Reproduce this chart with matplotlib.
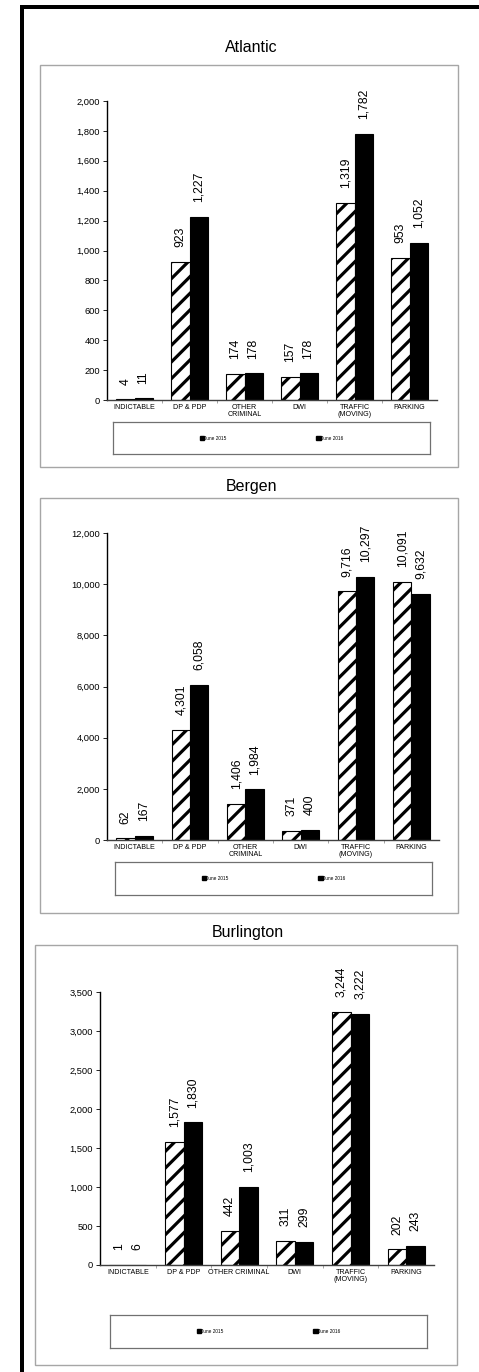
import matplotlib
matplotlib.use("Agg")
import matplotlib.pyplot as plt
from matplotlib.patches import Rectangle, Patch
import matplotlib.ticker as mticker
import numpy as np

plt.rcParams['font.family'] = ['Liberation Sans', 'DejaVu Sans']
plt.rcParams['hatch.linewidth'] = 2.3

W, H = 479, 1372

categories_a = ["INDICTABLE", "DP & PDP", "OTHER\nCRIMINAL", "DWI", "TRAFFIC\n(MOVING)", "PARKING"]
categories_c = ["INDICTABLE", "DP & PDP", "OTHER CRIMINAL", "DWI", "TRAFFIC\n(MOVING)", "PARKING"]
series_names = ["June 2015", "June 2016"]

atlantic_2015 = [4, 923, 174, 157, 1319, 953]
atlantic_2016 = [11, 1227, 178, 178, 1782, 1052]
bergen_2015 = [62, 4301, 1406, 371, 9716, 10091]
bergen_2016 = [167, 6058, 1984, 400, 10297, 9632]
burlington_2015 = [1, 1577, 442, 311, 3244, 202]
burlington_2016 = [6, 1830, 1003, 299, 3222, 243]

fig = plt.figure(figsize=(W / 100, H / 100), dpi=100)
fig.patch.set_facecolor("white")


def rect(x0, y0, x1, y1):
    return [x0 / W, 1 - y1 / H, (x1 - x0) / W, (y1 - y0) / H]


def fx(x):
    return x / W


def fy(y):
    return 1 - y / H


# outer black border (left + top)
fig.add_artist(Rectangle((fx(20), fy(1372)), fx(4), (1372 - 5) / H, transform=fig.transFigure,
                         facecolor="black", edgecolor="none", zorder=-5))
fig.add_artist(Rectangle((fx(20), fy(9)), fx(459), 4 / H, transform=fig.transFigure,
                         facecolor="black", edgecolor="none", zorder=-5))

panels = [
    dict(title="Atlantic", ty=47, box=(40, 65, 458, 467), ax=(107, 101, 437, 400),
         leg=(113, 422, 430, 454), cats=categories_a, s1=atlantic_2015, s2=atlantic_2016,
         ymax=2000, step=200),
    dict(title="Bergen", ty=487, box=(40, 498, 458, 913), ax=(107, 533, 439, 840),
         leg=(115, 862, 432, 895), cats=categories_a, s1=bergen_2015, s2=bergen_2016,
         ymax=12000, step=2000),
    dict(title="Burlington", ty=932, box=(35, 945, 457, 1365), ax=(100, 992, 434, 1265),
         leg=(110, 1315, 427, 1348), cats=categories_c, s1=burlington_2015, s2=burlington_2016,
         ymax=3500, step=500),
]

bw = 0.33
for p in panels:
    bx0, by0, bx1, by1 = p["box"]
    fig.add_artist(Rectangle((fx(bx0), fy(by1)), (bx1 - bx0) / W, (by1 - by0) / H,
                             transform=fig.transFigure, facecolor="white",
                             edgecolor="#a6a6a6", linewidth=1.0, zorder=-4))
    fig.text(fx((bx0 + bx1) / 2 + 2), fy(p["ty"]), p["title"], ha="center", va="center",
             fontsize=11.5, color="black")

    ax = fig.add_axes(rect(*p["ax"]))
    ax.patch.set_alpha(0)
    x = np.arange(len(p["cats"]))
    b1 = ax.bar(x - bw / 2, p["s1"], bw, facecolor="white", edgecolor="black",
                hatch="//", linewidth=0.8)
    b2 = ax.bar(x + bw / 2, p["s2"], bw, facecolor="black", edgecolor="black", linewidth=0.8)
    for bars, vals in ((b1, p["s1"]), (b2, p["s2"])):
        for r, v in zip(bars, vals):
            ax.annotate(f"{v:,}", (r.get_x() + r.get_width() / 2, r.get_height()),
                        xytext=(0, 10.5), textcoords="offset points", rotation=90,
                        ha="center", va="bottom", fontsize=8.8)
    ax.set_xlim(-0.5, len(x) - 0.5)
    ax.set_ylim(0, p["ymax"])
    ax.set_yticks(np.arange(0, p["ymax"] + 1, p["step"]))
    ax.yaxis.set_major_formatter(mticker.FuncFormatter(lambda v, _: f"{int(v):,}"))
    ax.tick_params(axis="y", labelsize=6.7, length=3, width=0.6, pad=2, colors="black")
    ax.set_xticks(x)
    ax.set_xticklabels(p["cats"], fontsize=5.1, linespacing=1.05)
    ax.tick_params(axis="x", which="major", length=0, pad=3)
    ax.set_xticks(np.arange(0.5, len(x) - 0.5, 1), minor=True)
    ax.tick_params(axis="x", which="minor", length=2.5, width=0.5, color="#808080")
    for s in ("top", "right"):
        ax.spines[s].set_visible(False)
    ax.spines["left"].set_linewidth(1.0)
    ax.spines["bottom"].set_linewidth(1.0)
    ax.spines["bottom"].set_color("#404040")

    lx0, ly0, lx1, ly1 = p["leg"]
    lax = fig.add_axes(rect(lx0, ly0, lx1, ly1))
    lax.set_xticks([])
    lax.set_yticks([])
    for s in lax.spines.values():
        s.set_color("#707070")
        s.set_linewidth(0.9)
    handles = [Patch(facecolor="black", edgecolor="black"),
               Patch(facecolor="black", edgecolor="black")]
    lax.legend(handles, series_names, loc="center", ncol=2, frameon=False, fontsize=3.4,
               handlelength=0.9, handleheight=0.9, handletextpad=0.1, columnspacing=19)

fig.savefig("out.png", dpi=100, facecolor="white")
